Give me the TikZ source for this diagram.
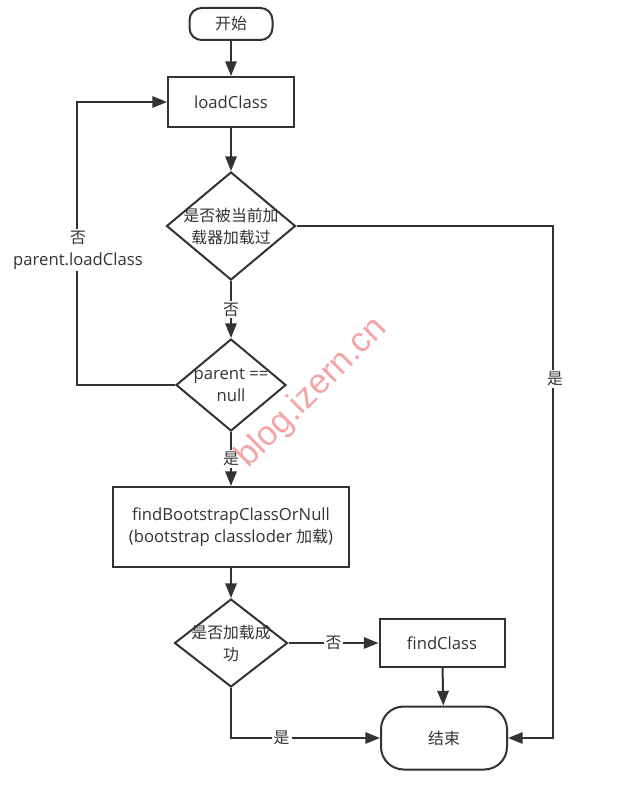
\documentclass[tikz,border=0pt]{standalone}
\usepackage{fontspec}
\setmainfont{Open Sans}
\newfontfamily\cjkfont[Scale=0.95]{Noto Sans CJK SC}
\newfontfamily\wmfont{Liberation Sans}
\newcommand{\zh}[1]{{\cjkfont #1}}
\usetikzlibrary{arrows.meta,shapes.geometric}
\definecolor{ink}{HTML}{333333}
\definecolor{wmred}{RGB}{245,165,165}
\newdimen\pxu \pxu=0.75pt

\begin{document}
\begin{tikzpicture}[x=0.75pt,y=-0.75pt,
  every node/.style={text=ink, font=\fontsize{12.5}{16.5}\selectfont},
  base/.style={draw=ink, line width=1.5pt, fill=white, align=center, inner sep=0pt},
  proc/.style={base, rectangle},
  term/.style={base, rectangle},
  dia/.style={base, diamond, aspect=1},
  conn/.style={draw=ink, line width=1.5pt, -{Triangle[length=11pt,width=8.5pt]}},
  lbl/.style={fill=white, inner sep=1.5pt},
  txt/.style={align=center, inner sep=0pt}]

\useasboundingbox (0,0) rectangle (623,787);

% process nodes
\node[term, rounded corners=9pt, minimum width=83\pxu, minimum height=32\pxu] (start) at (231,24) {\zh{开始}};
\node[proc, minimum width=126\pxu, minimum height=50\pxu] (load) at (231,102) {loadClass};

\node[dia, minimum width=129\pxu, minimum height=108\pxu] (d1) at (231,226) {};
\node[txt] (d1t) at (d1) {\zh{是否被当前加}\\\zh{载器加载过}};

\node[dia, minimum width=110\pxu, minimum height=92\pxu] (d2) at (231,385) {};
\node[txt] (d2t) at (d2) {parent ==\\null};

\node[proc, minimum width=236\pxu, minimum height=80\pxu] (fb) at (231,527)
  {findBootstrapClassOrNull\\(bootstrap classloder \zh{加载})};

\node[dia, minimum width=113\pxu, minimum height=88\pxu] (d3) at (231,643) {};
\node[txt] (d3t) at (d3) {\zh{是否加载成}\\\zh{功}};

\node[proc, minimum width=125\pxu, minimum height=48\pxu] (fc) at (442,643) {findClass};
\node[term, rounded corners=17pt, minimum width=126\pxu, minimum height=63\pxu] (endn) at (444,738) {\zh{结束}};

% routing points
\coordinate (loopx) at (77,0);
\coordinate (rightx) at (553,0);

% connectors
\draw[conn] (start) -- (load);
\draw[conn] (load) -- (d1);
\draw[conn] (d1) -- node[lbl] (l1) {\zh{否}} (d2);
\draw[conn] (d2.west) -| (loopx |- load.west) -- (load.west);
\node[lbl, align=center] (l2) at (78,250) {\zh{否}\\parent.loadClass};
\draw[conn] (d1.east) -| (rightx |- endn.east) -- (endn.east);
\node[lbl] (l3) at (555,379) {\zh{是}};
\draw[conn] (d2) -- node[lbl] (l4) {\zh{是}} (fb);
\draw[conn] (fb) -- (d3);
\draw[conn] (d3.east) -- node[lbl] (l5) {\zh{否}} (fc.west);
\draw[conn] (fc) -- (endn);
\draw[conn] (d3.south) |- node[lbl, pos=0.67] (l6) {\zh{是}} (endn.west);

% watermark
\node[rotate=45, text=wmred, font=\wmfont\fontsize{26}{26}\selectfont, inner sep=0pt] (wm) at (312,393) {blog.izern.cn};

\end{tikzpicture}
\end{document}
